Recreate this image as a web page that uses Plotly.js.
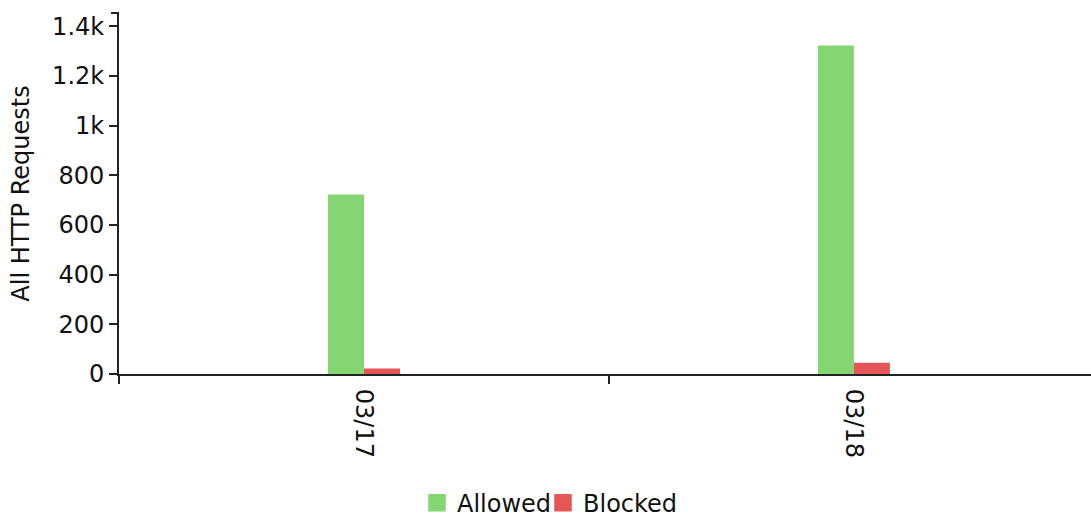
<!DOCTYPE html>
<html>
<head>
<meta charset="utf-8">
<script src="https://cdn.plot.ly/plotly-3.0.1.min.js"></script>
<style>html,body{margin:0;padding:0;background:#fff}#chart{width:1091px;height:515px}</style>
</head>
<body>
<div id="chart"></div>
<script>
const categories = ["03/17", "03/18"];
const allowed = [722, 1322];
const blocked = [22, 45];
const seriesNames = ["Allowed", "Blocked"];
const colors = ["#85d673", "#e55656"];

const font = {family: "DejaVu Sans", size: 24, color: "#111"};

const traces = [
  {type: "bar", x: categories, y: allowed, name: seriesNames[0], marker: {color: colors[0]}, showlegend: false, hoverinfo: "skip"},
  {type: "bar", x: categories, y: blocked, name: seriesNames[1], marker: {color: colors[1]}, showlegend: false, hoverinfo: "skip"},
  {type: "scatter", mode: "markers", x: [null], y: [null], name: seriesNames[0], legend: "legend", marker: {symbol: "square", size: 16, color: colors[0], line: {width: 1.5, color: colors[0]}}, showlegend: true},
  {type: "scatter", mode: "markers", x: [null], y: [null], name: seriesNames[1], legend: "legend2", marker: {symbol: "square", size: 16, color: colors[1], line: {width: 1.5, color: colors[1]}}, showlegend: true}
];

const legendBase = {orientation: "h", xref: "container", xanchor: "left", yref: "container", y: 0.023, yanchor: "middle", font: font, itemwidth: 30, bgcolor: "rgba(0,0,0,0)"};

const layout = {
  width: 1091, height: 515,
  margin: {l: 119, r: 0, t: 13, b: 141, pad: 0, autoexpand: false},
  paper_bgcolor: "#fff", plot_bgcolor: "#fff",
  font: font,
  barmode: "group",
  bargap: 0.853,
  bargroupgap: 0,
  showlegend: true,
  legend: Object.assign({}, legendBase, {x: 417 / 1091}),
  legend2: Object.assign({}, legendBase, {x: 543 / 1091}),
  xaxis: {
    type: "category", range: [-0.5, 1.484], tickson: "boundaries",
    showline: true, linecolor: "#222", linewidth: 2,
    ticks: "outside", ticklen: 8, tickwidth: 2, tickcolor: "#222",
    ticklabelstandoff: 8,
    tickangle: 90, tickfont: font, showgrid: false, zeroline: false, fixedrange: true
  },
  yaxis: {
    range: [0, 1453], tickvals: [0, 200, 400, 600, 800, 1000, 1200, 1400],
    ticktext: ["0", "200", "400", "600", "800", "1k", "1.2k", "1.4k"],
    showline: true, linecolor: "#222", linewidth: 2,
    ticks: "outside", ticklen: 8, tickwidth: 2, tickcolor: "#222",
    tickfont: font, showgrid: false, zeroline: false, fixedrange: true,
    title: {text: "All HTTP Requests", font: font, standoff: 16}
  },
  shapes: [
    {type: "line", xref: "paper", yref: "paper", x0: -8/972, x1: 0, y0: 1, y1: 1, line: {color: "#222", width: 2}}
  ]
};

Plotly.newPlot("chart", traces, layout, {displayModeBar: false, staticPlot: true});
</script>
</body>
</html>
